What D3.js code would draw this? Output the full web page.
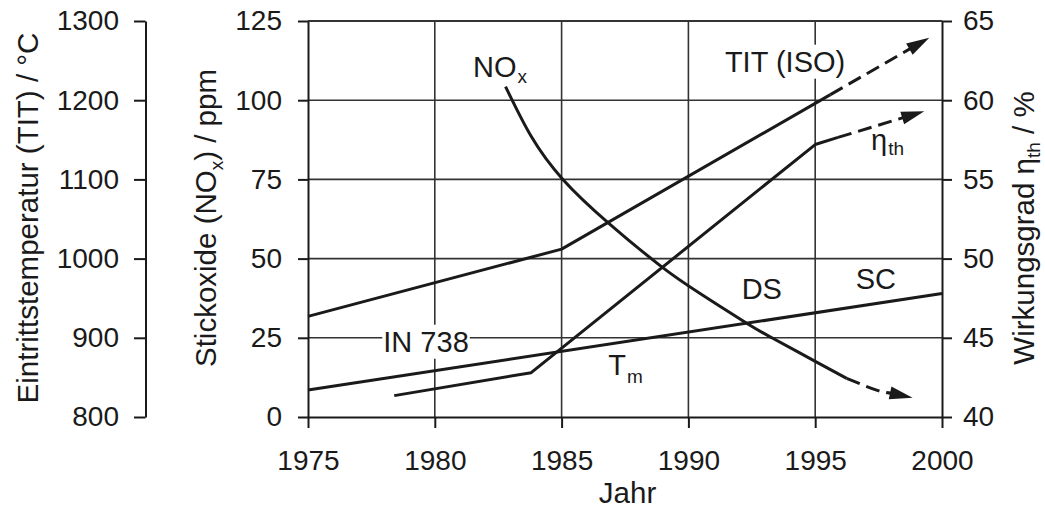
<!DOCTYPE html>
<html><head><meta charset="utf-8">
<script src="https://cdn.jsdelivr.net/npm/d3@7"></script>
<style>
html,body{margin:0;padding:0;background:#fff;}
svg{display:block;font-family:"Liberation Sans",Arial,Helvetica,sans-serif;}
</style></head>
<body>
<svg id="c" width="1045" height="510"></svg>
<script>
// ---- data ----
const years = [1975, 1980, 1985, 1990, 1995, 2000];
const titTicks = [800, 900, 1000, 1100, 1200, 1300];
const noxTicks = [0, 25, 50, 75, 100, 125];
const etaTicks = [40, 45, 50, 55, 60, 65];

// Turbine inlet temperature TIT (ISO), °C
const titSolid = [[1975, 927], [1985, 1012], [1995.6, 1207]];
const titDashed = [[1995.6, 1207], [1999.5, 1279]];
// thermal efficiency, %
const etaSolid = [[1978.4, 41.35], [1983.8, 42.8], [1995, 57.2], [1995.9, 57.65]];
const etaDashed = [[1995.9, 57.65], [1999.3, 59.3]];
// material temperature T_m (IN 738 -> DS -> SC), °C
const tmLine = [[1975, 834], [2000, 956]];
// NOx, ppm
const noxSolid = [[1982.79, 104.3], [1983.8, 88.6], [1985.05, 75.0], [1986.84, 61.3],
  [1988.95, 47.4], [1990.46, 39.0], [1992.3, 29.6], [1993.29, 25.0], [1995.02, 17.5], [1996.24, 12.2]];
const noxDashed = [[1996.24, 12.2], [1997.42, 8.5], [1998.84, 6.1]];

// ---- scales ----
const svg = d3.select("#c");
const L = 308, R = 942, T = 21, B = 417;
const x = d3.scaleLinear().domain([1975, 2000]).range([L, R]);
const yN = d3.scaleLinear().domain([0, 125]).range([B, T]);
const yT = d3.scaleLinear().domain([800, 1300]).range([B, T]);
const yE = d3.scaleLinear().domain([40, 65]).range([B, T]);

const INK = "#1a1a1a";
const TICKFS = 28, LABFS = 29, TITLEFS = 29.5, SUBFS = 19;

// ---- grid ----
const grid = svg.append("g");
grid.selectAll("line.h").data(noxTicks.filter(d => d > 0)).join("line")
  .attr("x1", L).attr("x2", R).attr("y1", d => yN(d)).attr("y2", d => yN(d))
  .attr("stroke", "#333").attr("stroke-width", 1.6);
grid.selectAll("line.v").data(years.filter(d => d > 1975 && d < 2000)).join("line")
  .attr("x1", d => x(d)).attr("x2", d => x(d)).attr("y1", T).attr("y2", B)
  .attr("stroke", "#333").attr("stroke-width", 1.6);

// ---- axes ----
function styleAxis(g) {
  g.attr("font-family", null).attr("font-size", null);
  g.select(".domain").attr("stroke", INK).attr("stroke-width", 2);
  g.selectAll(".tick line").attr("stroke", INK).attr("stroke-width", 2);
  g.selectAll(".tick text").attr("fill", INK).style("font-size", TICKFS + "px");
}
svg.append("g").attr("transform", `translate(0,${B})`)
  .call(d3.axisBottom(x).tickValues(years).tickFormat(d3.format("d")).tickSize(11).tickSizeOuter(0).tickPadding(22))
  .call(styleAxis);
svg.append("g").attr("transform", `translate(145.5,0)`)
  .call(d3.axisLeft(yT).tickValues(titTicks).tickFormat(d3.format("d")).tickSize(11.5).tickSizeOuter(0).tickPadding(15))
  .call(styleAxis);
svg.append("g").attr("transform", `translate(${L},0)`)
  .call(d3.axisLeft(yN).tickValues(noxTicks).tickSize(10).tickSizeOuter(0).tickPadding(16))
  .call(styleAxis);
svg.append("g").attr("transform", `translate(${R},0)`)
  .call(d3.axisRight(yE).tickValues(etaTicks).tickSize(10).tickSizeOuter(0).tickPadding(11))
  .call(styleAxis);
// top border
svg.append("line").attr("x1", L).attr("x2", R).attr("y1", T).attr("y2", T)
  .attr("stroke", "#333").attr("stroke-width", 1.8);

// ---- axis titles ----
function vTitle(xp, yp, parts) {
  const t = svg.append("text").attr("transform", `translate(${xp},${yp}) rotate(-90)`)
    .attr("text-anchor", "middle").attr("fill", INK).style("font-size", TITLEFS + "px");
  parts.forEach(p => {
    const s = t.append("tspan").text(p.t);
    if (p.sub) s.style("font-size", SUBFS + "px").attr("dy", p.dy);
    else if (p.dy) s.attr("dy", p.dy);
  });
}
vTitle(37.5, 218, [{t: "Eintrittstemperatur (TIT) / °C"}]);
vTitle(216, 218, [{t: "Stickoxide (NO"}, {t: "x", sub: true, dy: 7}, {t: ") / ppm", dy: -7}]);
vTitle(1034, 228, [{t: "Wirkungsgrad η"}, {t: "th", sub: true, dy: 6}, {t: " / %", dy: -6}]);
svg.append("text").attr("x", x(1987.6)).attr("y", 503).attr("text-anchor", "middle")
  .attr("fill", INK).style("font-size", TITLEFS + "px").text("Jahr");

// ---- series ----
const lines = svg.append("g").attr("fill", "none").attr("stroke", INK).attr("stroke-width", 3)
  .attr("stroke-linejoin", "round");
function mk(ys, curve) {
  return d3.line().x(d => x(d[0])).y(d => ys(d[1])).curve(curve || d3.curveLinear);
}
lines.append("path").attr("d", mk(yT)(tmLine));
lines.append("path").attr("d", mk(yT)(titSolid));
lines.append("path").attr("d", mk(yE)(etaSolid));
lines.append("path").attr("d", mk(yN, d3.curveNatural)(noxSolid));

// dashed continuation with arrow head
function dashedArrow(data, ys, curve) {
  const pts = data.map(d => [x(d[0]), ys(d[1])]);
  const tip = pts[pts.length - 1], prev = pts[pts.length - 2];
  const dx = tip[0] - prev[0], dy = tip[1] - prev[1], len = Math.hypot(dx, dy);
  const ux = dx / len, uy = dy / len, AL = 23, AW = 6.5;
  const base = [tip[0] - ux * AL, tip[1] - uy * AL];
  const linePts = pts.slice(0, -1).concat([[base[0] + ux * 2, base[1] + uy * 2]]);
  lines.append("path").attr("d", d3.line().curve(curve || d3.curveLinear)(linePts))
    .attr("stroke-dasharray", "14,7");
  svg.append("path").attr("fill", INK)
    .attr("d", `M${tip[0]},${tip[1]}L${base[0] - uy * AW},${base[1] + ux * AW}L${base[0] + uy * AW},${base[1] - ux * AW}Z`);
}
dashedArrow(titDashed, yT);
dashedArrow(etaDashed, yE);
dashedArrow(noxDashed, yN, d3.curveNatural);

// ---- labels ----
function label(xp, yp, main, sub, subDy, bg) {
  const g = svg.append("g");
  const t = g.append("text").attr("x", xp).attr("y", yp).attr("fill", INK).style("font-size", LABFS + "px");
  t.append("tspan").text(main);
  if (sub) t.append("tspan").text(sub).style("font-size", SUBFS + "px").attr("dy", subDy).attr("dx", 1);
  if (bg) {
    const b = t.node().getBBox();
    g.insert("rect", "text").attr("x", b.x - 1).attr("y", b.y - 1).attr("width", b.width + 2)
      .attr("height", b.height + 2).attr("fill", "#fff");
  }
}
label(x(1981.51), yN(107.4), "NO", "x", 6.6);
label(x(1991.44), yT(1236), "TIT (ISO)", null, 0, true);
label(x(1997.2), yE(56.86), "η", "th", 5);
label(x(1977.97), yT(882.4), "IN 738", null, 0, true);
label(x(1986.84), yT(853), "T", "m", 8.3);
label(x(1992.1), yT(948.6), "DS");
label(x(1996.6), yT(961.2), "SC");
</script>
</body></html>
